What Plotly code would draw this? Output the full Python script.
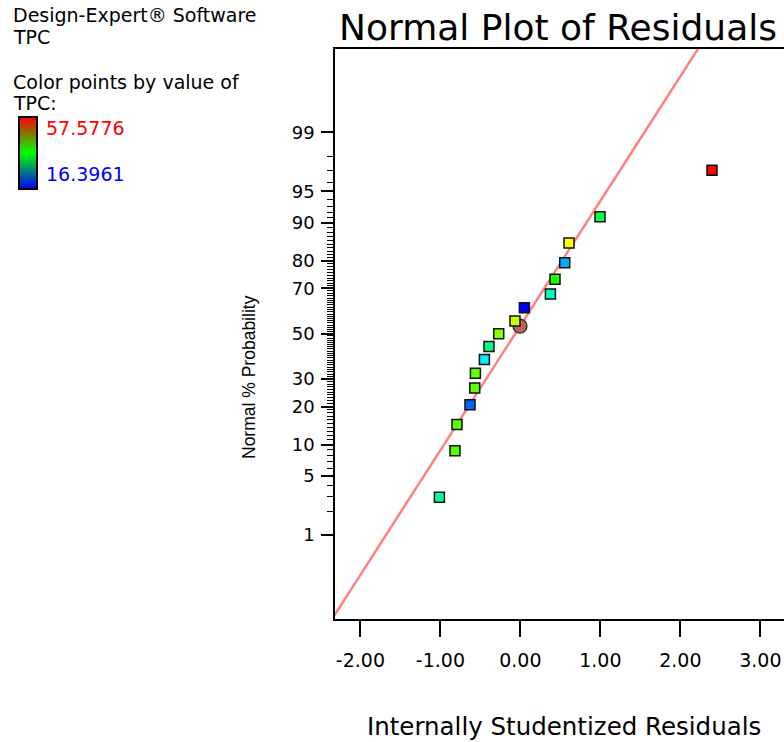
import plotly.graph_objects as go
from statistics import NormalDist

# ---- data -------------------------------------------------------------
# internally studentized residuals, sorted ascending
residuals = [-1.0125, -0.8175, -0.7925, -0.63, -0.571, -0.5625, -0.45, -0.3925,
             -0.271, -0.0675, 0.05, 0.375, 0.4325, 0.554, 0.6075, 0.995, 2.395]
# normal % probability of each ranked residual
normal_pct = [2.94, 8.82, 14.71, 20.59, 26.47, 32.35, 38.24, 44.12, 50.0,
              55.88, 61.76, 67.65, 73.53, 79.41, 85.29, 91.18, 97.06]
# TPC response of each run (used to colour the points)
tpc = [31.0, 40.3, 40.3, 20.5, 40.7, 41.1, 26.0, 31.8, 42.5, 45.2, 16.4, 29.2,
       38.2, 23.4, 47.3, 34.1, 57.6]
tpc_min, tpc_max = 16.3961, 57.5776

# reference line (mean / std dev of the residual distribution)
line_mean, line_sd = -0.065, 0.694
# centre marker
centre_x, centre_pct = -0.005, 53.5

y_major = [1, 5, 10, 20, 30, 50, 70, 80, 90, 95, 99]
y_minor = [p for p in range(1, 100) if p not in y_major]
x_ticks = [-2, -1, 0, 1, 2, 3]
x_range = [-2.3175, 3.295]
z_range = [-3.298, 3.291]

probit = NormalDist().inv_cdf


def z(p):
    return probit(p / 100.0)


# ---- page geometry ----------------------------------------------------
W, H = 784, 742
ML, MR, MT, MB = 335, 0, 49, 123
PW, PH = W - ML - MR, H - MT - MB


def px(xp):
    return (xp - ML) / PW


def py(yp):
    return (H - MB - yp) / PH


FONT = "DejaVu Sans"

fig = go.Figure()

# normal reference line
lx = [x_range[0] - 0.1, x_range[1] + 0.1]
lz = [(v - line_mean) / line_sd for v in lx]
fig.add_trace(go.Scatter(x=lx, y=lz, mode="lines",
                         line=dict(color="#ff8080", width=2.5),
                         hoverinfo="skip", showlegend=False))

# centre marker
fig.add_trace(go.Scatter(x=[centre_x], y=[z(centre_pct)], mode="markers",
                         marker=dict(symbol="circle", size=14, color="#c0605c",
                                     line=dict(color="#202020", width=1.2)),
                         showlegend=False))

# residual points coloured by TPC
rainbow = [[0.0, "#0000ff"], [0.25, "#00ffff"], [0.5, "#00ff00"],
           [0.75, "#ffff00"], [1.0, "#ff0000"]]
fig.add_trace(go.Scatter(x=residuals, y=[z(p) for p in normal_pct],
                         mode="markers",
                         marker=dict(symbol="square", size=10, color=tpc,
                                     colorscale=rainbow, cmin=tpc_min,
                                     cmax=tpc_max, showscale=False,
                                     line=dict(color="#101010", width=1.5)),
                         showlegend=False))

# colour key
fig.add_trace(go.Scatter(x=[x_range[0]], y=[z_range[0]], mode="markers",
                         marker=dict(color=[tpc_min], cmin=tpc_min, cmax=tpc_max,
                                     size=0.1, opacity=0,
                                     colorscale=[[0, "#0000ff"], [0.5, "#00ff00"],
                                                 [1, "#ff0000"]],
                                     showscale=True,
                                     colorbar=dict(x=px(18.5), xanchor="left",
                                                   y=py(117), yanchor="top",
                                                   thickness=18, thicknessmode="pixels",
                                                   len=72, lenmode="pixels",
                                                   xpad=0, ypad=0,
                                                   outlinewidth=2, outlinecolor="black",
                                                   showticklabels=False, ticks="")),
                         showlegend=False, hoverinfo="skip"))

ann = []
for text, yc in [("Design-Expert® Software", 15), ("TPC", 37),
                 ("Color points by value of", 82), ("TPC:", 103)]:
    ann.append(dict(text=text, x=px(11), y=py(yc), xref="paper", yref="paper",
                    xanchor="left", yanchor="middle", showarrow=False,
                    font=dict(family=FONT, size=19, color="black")))
ann.append(dict(text=f"{tpc_max:.4f}", x=px(44), y=py(128), xref="paper", yref="paper",
                xanchor="left", yanchor="middle", showarrow=False,
                font=dict(family=FONT, size=19, color="#ff0000")))
ann.append(dict(text=f"{tpc_min:.4f}", x=px(44), y=py(174), xref="paper", yref="paper",
                xanchor="left", yanchor="middle", showarrow=False,
                font=dict(family=FONT, size=19, color="#0000ff")))
ann.append(dict(text="Normal % Probability", x=px(249), y=py(377), xref="paper",
                yref="paper", xanchor="center", yanchor="middle", textangle=-90,
                showarrow=False,
                font=dict(family="Liberation Sans", size=17.5, color="black")))
ann.append(dict(text="Internally Studentized Residuals", x=px(564), y=py(726),
                xref="paper", yref="paper", xanchor="center", yanchor="middle",
                showarrow=False, font=dict(family=FONT, size=24.5, color="black")))

fig.update_layout(
    width=W, height=H,
    margin=dict(l=ML, r=MR, t=MT, b=MB),
    paper_bgcolor="white", plot_bgcolor="white",
    title=dict(text="Normal Plot of Residuals", x=558 / W, xanchor="center",
               y=1 - 27 / H, yanchor="middle",
               font=dict(family=FONT, size=36, color="black")),
    annotations=ann,
    xaxis=dict(range=x_range, tickvals=x_ticks,
               ticktext=[f"{v:.2f}" for v in x_ticks],
               ticks="outside", ticklen=16, tickwidth=1.5, tickcolor="black",
               ticklabelstandoff=7,
               showline=True, linecolor="black", linewidth=1.5, mirror=True,
               showgrid=False, zeroline=False,
               tickfont=dict(family=FONT, size=19, color="black")),
    yaxis=dict(range=z_range, tickvals=[z(p) for p in y_major],
               ticktext=[str(p) for p in y_major],
               ticks="outside", ticklen=12, tickwidth=1.5, tickcolor="black",
               ticklabelstandoff=3,
               minor=dict(tickvals=[z(p) for p in y_minor], ticks="outside",
                          ticklen=6, tickwidth=1, tickcolor="black"),
               showline=True, linecolor="black", linewidth=1.5, mirror=False,
               showgrid=False, zeroline=False,
               tickfont=dict(family=FONT, size=18, color="black")),
)

fig.write_html("out.html")
